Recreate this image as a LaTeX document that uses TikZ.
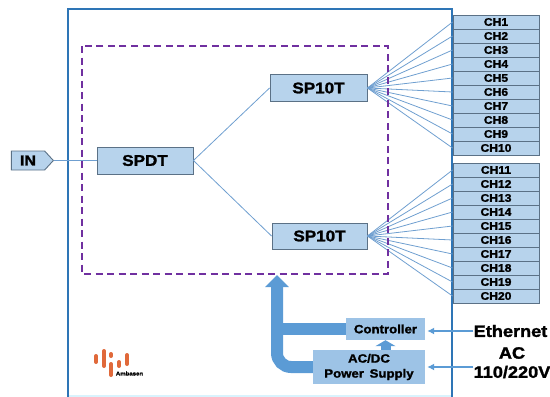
\documentclass[tikz,border=0pt]{standalone}
\usepackage{fontspec}
\setmainfont[FakeStretch=1.1,BoldFeatures={FakeBold=1.6}]{Liberation Sans}
\usetikzlibrary{arrows.meta,shapes.symbols}
\definecolor{boxfill}{HTML}{B7D3EC}
\definecolor{boxline}{HTML}{5B7186}
\definecolor{fanblue}{HTML}{6F9FD0}
\definecolor{busblue}{HTML}{5B9BD5}
\definecolor{framblue}{HTML}{2E75B6}
\definecolor{ctrlblue}{HTML}{9DC3E6}
\definecolor{dashpurple}{HTML}{7030A0}
\definecolor{logoorange}{HTML}{E0693A}
\tikzset{
	swbox/.style={draw=boxline, fill=boxfill, line width=0.9pt, inner sep=0pt, font=\bfseries\fontsize{15.5}{15.5}\selectfont},
	chbox/.style={draw=boxline, fill=boxfill, line width=0.9pt, inner sep=0pt, minimum width=86pt, minimum height=14pt, font=\bfseries\fontsize{11}{11}\selectfont},
	pwrbox/.style={fill=ctrlblue, inner sep=0pt, align=center, font=\bfseries\fontsize{12}{15}\selectfont},
	fanline/.style={fanblue, line width=0.8pt},
	bus/.style={busblue, line width=12pt},
	extlabel/.style={inner sep=0pt, font=\bfseries\fontsize{16.5}{16.5}\selectfont},
	extarrow/.style={busblue, line width=1.3pt, -{Latex[length=7pt,width=7pt]}, shorten >=2pt},
	logobar/.style={logoorange, line width=4pt, line cap=round}
}
\begin{document}
\begin{tikzpicture}[x=1pt,y=-1pt]
	\useasboundingbox (0,0) rectangle (550,397);
	% enclosure
	\draw[cyan!15, line width=1.2pt] (68,396) -- (452,396);
	\draw[framblue, line width=1.5pt] (68,397) -- (68,9) -- (452,9) -- (452,397);
	% switches
	\node[swbox, minimum width=42pt, minimum height=19pt, signal, signal to=east, signal pointer angle=95, font=\bfseries\fontsize{14.5}{14.5}\selectfont] (in) at (28,160.5) {IN};
	\node[swbox, minimum width=96pt, minimum height=27pt] (spdt) at (145,160.5) {SPDT};
	\node[swbox, minimum width=97pt, minimum height=27pt] (spa) at (318.5,88) {SP10T};
	\node[swbox, minimum width=95pt, minimum height=26pt] (spb) at (319.5,236) {SP10T};
	% channels
	\foreach \i in {1,...,10}
		\node[chbox] (ch\i) at (496,{22+14*(\i-1)}) {CH\i};
	\foreach \i [evaluate=\i as \j using int(\i+10)] in {1,...,10}
		\node[chbox] (ch\j) at (496,{170+14*(\i-1)}) {CH\j};
	\draw[fanline] (in.east) -- (spdt.west);
	\draw[fanline] (spdt.east) -- (spa.west);
	\draw[fanline] (spdt.east) -- (spb.west);
	\foreach \i in {1,...,10}
		\draw[fanline] (spa.east) -- (ch\i.west);
	\foreach \i in {11,...,20}
		\draw[fanline] (spb.east) -- (ch\i.west);
	% switch matrix outline
	\draw[dashpurple, line width=1.5pt, dash pattern=on 7pt off 4.5pt] (82,46) rectangle (388,274);
	% control and power
	\node[pwrbox, minimum width=79pt, minimum height=22pt] (ctrl) at (385.5,329) {Controller};
	\node[pwrbox, minimum width=112pt, minimum height=34pt] (psu) at (369,367) {AC/DC\\Power\, Supply};
	\coordinate (busjoin) at (277,329);
	\coordinate (bustop) at (277,275);
	\draw[bus, rounded corners=14pt, -{Triangle[length=12pt,width=23pt]}] (psu.west) -- (277,367) -- (bustop);
	\draw[bus] (ctrl.west) -- (busjoin);
	\draw[busblue, line width=10pt, -{Triangle[length=6pt,width=20pt]}] (psu.north -| ctrl.south) -- (ctrl.south);
	\node[extlabel] (eth) at (510.5,331) {Ethernet};
	\node[extlabel] (ac) at (512,353) {AC};
	\node[extlabel] (mains) at (512,372) {110/220V};
	\draw[extarrow] (eth.west) -- (ctrl.east |- eth.west);
	\draw[extarrow] (mains.west |- psu.east) -- (psu.east);
	% logo
	\draw[logobar] (96,356) -- (96,362);
	\draw[logobar] (104,351) -- (104,366);
	\draw[logobar] (111,354) -- (111,356);
	\draw[logobar] (111,364) -- (111,375);
	\draw[logobar] (119,362) -- (119,366);
	\draw[logobar] (127,355) -- (127,364);
	\node[inner sep=0pt, font=\bfseries\fontsize{5.5}{5.5}\selectfont] (logotext) at (129.5,373.5) {Ambasen};
\end{tikzpicture}
\end{document}
